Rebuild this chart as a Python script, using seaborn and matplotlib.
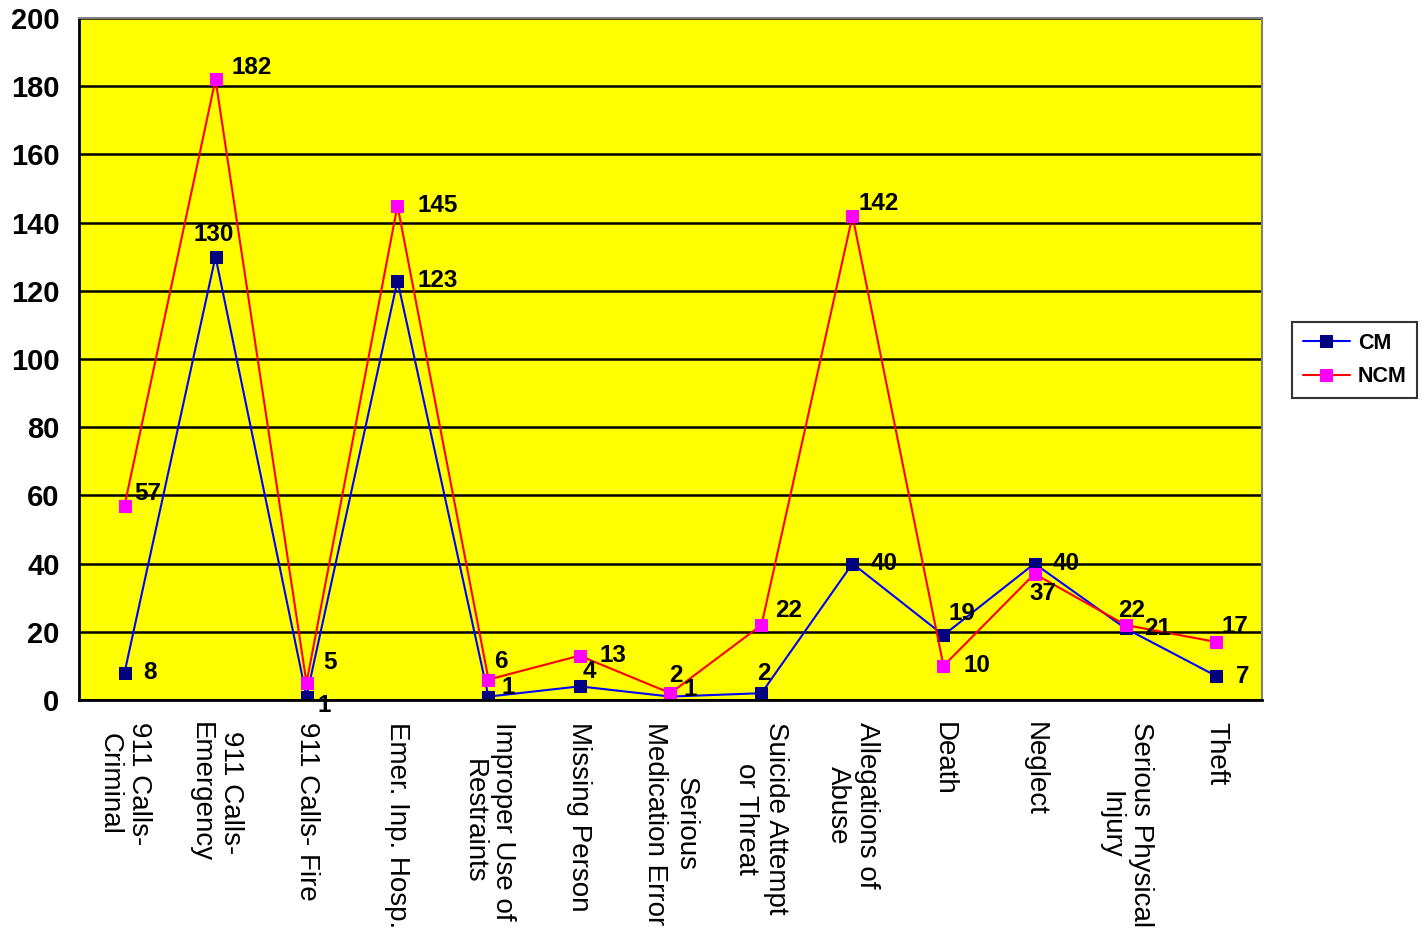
import pandas as pd
import seaborn as sns
import matplotlib.pyplot as plt
from matplotlib.ticker import MultipleLocator, FixedLocator

categories = ["911 Calls-\nCriminal", "911 Calls-\nEmergency", "911 Calls- Fire",
              "Emer. Inp. Hosp.", "Improper Use of\nRestraints", "Missing Person",
              "Serious\nMedication Error", "Suicide Attempt\nor Threat",
              "Allegations of\nAbuse", "Death", "Neglect",
              "Serious Physical\nInjury", "Theft"]
cm_values = [8, 130, 1, 123, 1, 4, 1, 2, 40, 19, 40, 21, 7]
ncm_values = [57, 182, 5, 145, 6, 13, 2, 22, 142, 10, 37, 22, 17]

# label offsets in pixels (dx, dy) relative to each marker
cm_offsets = [(26, 0), (-2, 22), (18, -9), (40, 0), (20, 9), (10, 15), (20, 7),
              (2, 20), (32, 0), (18, 22), (32, 0), (32, 0), (26, 0)]
ncm_offsets = [(23, 12), (36, 12), (24, 20), (40, 0), (12, 18), (33, 0), (5, 18),
               (27, 14), (26, 12), (33, 0), (8, -20), (6, 14), (18, 16)]

sns.set_style("white")
plt.rcParams['font.family'] = ['Liberation Sans', 'DejaVu Sans']
plt.rcParams['text.color'] = 'black'
plt.rcParams['xtick.color'] = 'black'
plt.rcParams['ytick.color'] = 'black'
plt.rcParams['axes.labelcolor'] = 'black'

df = pd.DataFrame({'pos': range(len(categories)), 'CM': cm_values, 'NCM': ncm_values})

fig = plt.figure(figsize=(14.24, 9.3), dpi=100)
ax = fig.add_axes([79 / 1424, 1 - 700 / 930, (1262 - 79) / 1424, (700 - 18) / 930])
ax.set_facecolor('#FFFF00')

sns.lineplot(data=df, x='pos', y='CM', ax=ax, color='#0000FF', lw=1.5, marker='s',
             markersize=9, markerfacecolor='#000080', markeredgecolor='#000080', label='CM')
sns.lineplot(data=df, x='pos', y='NCM', ax=ax, color='#FF0000', lw=1.5, marker='s',
             markersize=9, markerfacecolor='#FF00FF', markeredgecolor='#FF00FF', label='NCM')

for i, (v, off) in enumerate(zip(cm_values, cm_offsets)):
    ax.annotate(str(v), (i, v), xytext=off, textcoords='offset pixels', ha='center',
                va='center', fontsize=17.5, fontweight='bold', color='black', zorder=5)
for i, (v, off) in enumerate(zip(ncm_values, ncm_offsets)):
    ax.annotate(str(v), (i, v), xytext=off, textcoords='offset pixels', ha='center',
                va='center', fontsize=17.5, fontweight='bold', color='black', zorder=5)

ax.set_xlim(-0.5, len(categories) - 0.5)
ax.set_ylim(0, 200)
ax.yaxis.set_major_locator(MultipleLocator(20))
ax.grid(axis='y', color='black', lw=1.8)
ax.set_axisbelow(True)

ax.set_xticks(range(len(categories)))
ax.set_xticklabels(categories, rotation=270, ha='center', va='top',
                   multialignment='center', fontsize=20)
ax.xaxis.set_minor_locator(FixedLocator([i - 0.5 for i in range(len(categories) + 1)]))
ax.tick_params(axis='x', which='major', length=0, pad=16)
ax.tick_params(axis='x', which='minor', length=8, width=1.5, color='black', direction='out')
ax.tick_params(axis='y', length=8, width=1.5, color='black', direction='out', pad=6)
for t in ax.get_yticklabels():
    t.set_fontsize(21)
    t.set_fontweight('bold')

ax.set_xlabel(None)
ax.set_ylabel(None)

for side in ['left', 'bottom']:
    ax.spines[side].set_color('black')
    ax.spines[side].set_linewidth(2)
for side in ['top', 'right']:
    ax.spines[side].set_color('#808080')
    ax.spines[side].set_linewidth(1.5)

leg = ax.legend(loc='center left', bbox_to_anchor=(1292 / 1424, 1 - 360 / 930),
                bbox_transform=fig.transFigure, frameon=True, fancybox=False,
                prop={'size': 15.5, 'weight': 'bold'}, handlelength=2.2, handletextpad=0.35,
                borderpad=0.5, borderaxespad=0, labelspacing=0.6)
leg.get_frame().set_edgecolor('black')
leg.get_frame().set_linewidth(1.5)

plt.savefig('out.png', dpi=100)
